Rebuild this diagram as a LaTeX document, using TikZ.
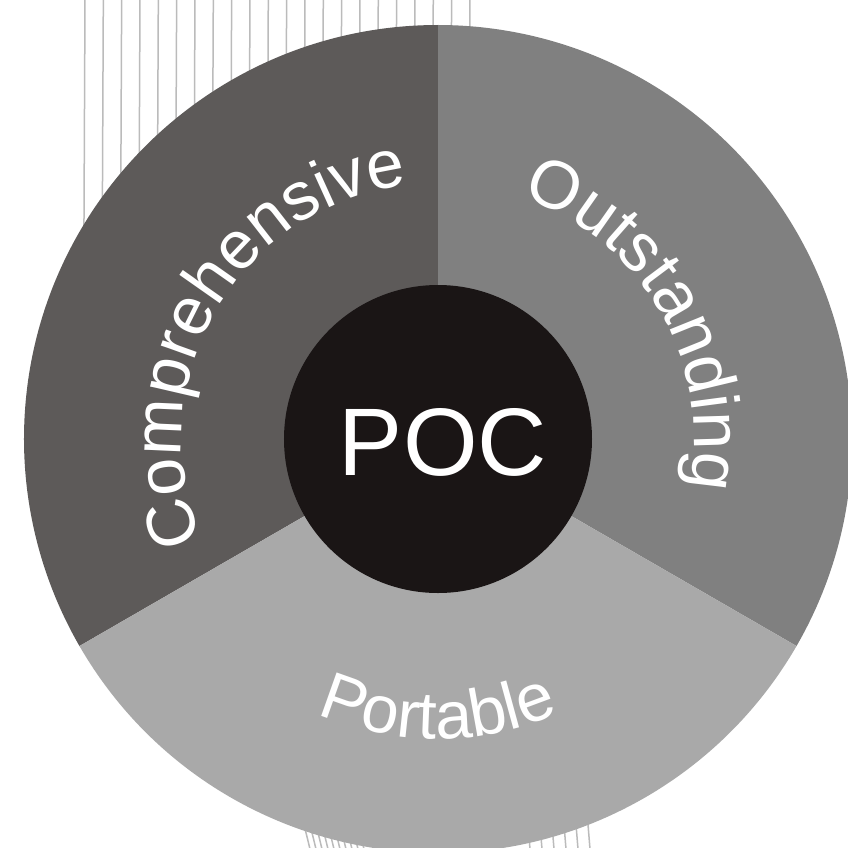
\documentclass[tikz,border=0pt]{standalone}
\usepackage{fontspec}
\setmainfont{Liberation Sans}
\usetikzlibrary{decorations.text}
\definecolor{segA}{HTML}{5D5A59}
\definecolor{segB}{HTML}{808080}
\definecolor{segC}{HTML}{A9A9A9}
\definecolor{hub}{HTML}{1A1515}
\definecolor{hatch}{HTML}{BBBBBB}
\tikzset{
  hatchline/.style={hatch, line width=1.5pt},
  ringtext/.style={decorate, decoration={text along path, text align=center, text color=white, text={#1}}}
}
\begin{document}
\begin{tikzpicture}[x=1pt,y=1pt]
\useasboundingbox (-438,-408) rectangle (410,439);
\fill[white] (-438,-408) rectangle (410,439);
% background hatch lines
\foreach \i in {0,...,21} \draw[hatchline] ({-353+\i*18.33},439) -- ({-355+\i*18.33},0);
\foreach \i in {0,...,9} \draw[hatchline] ({-140+\i*6},-361) -- ({-128+\i*6},-410);
\foreach \i in {0,...,5} \draw[hatchline] ({88+\i*12},-361) -- ({92+\i*12},-410);
% sectors
\fill[segA] (0,0) -- (90:414) arc[start angle=90,end angle=210,radius=414] -- cycle;
\fill[segB] (0,0) -- (-30:414) arc[start angle=-30,end angle=90,radius=414] -- cycle;
\fill[segC] (0,0) -- (210:414) arc[start angle=210,end angle=330,radius=414] -- cycle;
% hub
\node[circle, fill=hub, minimum size=308pt, inner sep=0pt] (hubnode) at (0,0) {};
\node[text=white, font=\fontsize{96}{96}\selectfont, inner sep=0pt] (poc) at (5,-3) {POC};
% ring texts
\path[ringtext={|\fontsize{68}{68}\selectfont|Comprehensive}] (212:256) arc[start angle=212, end angle=88, radius=256];
\path[ringtext={|\fontsize{68}{68}\selectfont|Outstanding}] (92:256) arc[start angle=92, end angle=-32, radius=256];
\path[ringtext={|\fontsize{67}{67}\selectfont|Portable}] (210:300) arc[start angle=210, end angle=330, radius=300];
\end{tikzpicture}
\end{document}
